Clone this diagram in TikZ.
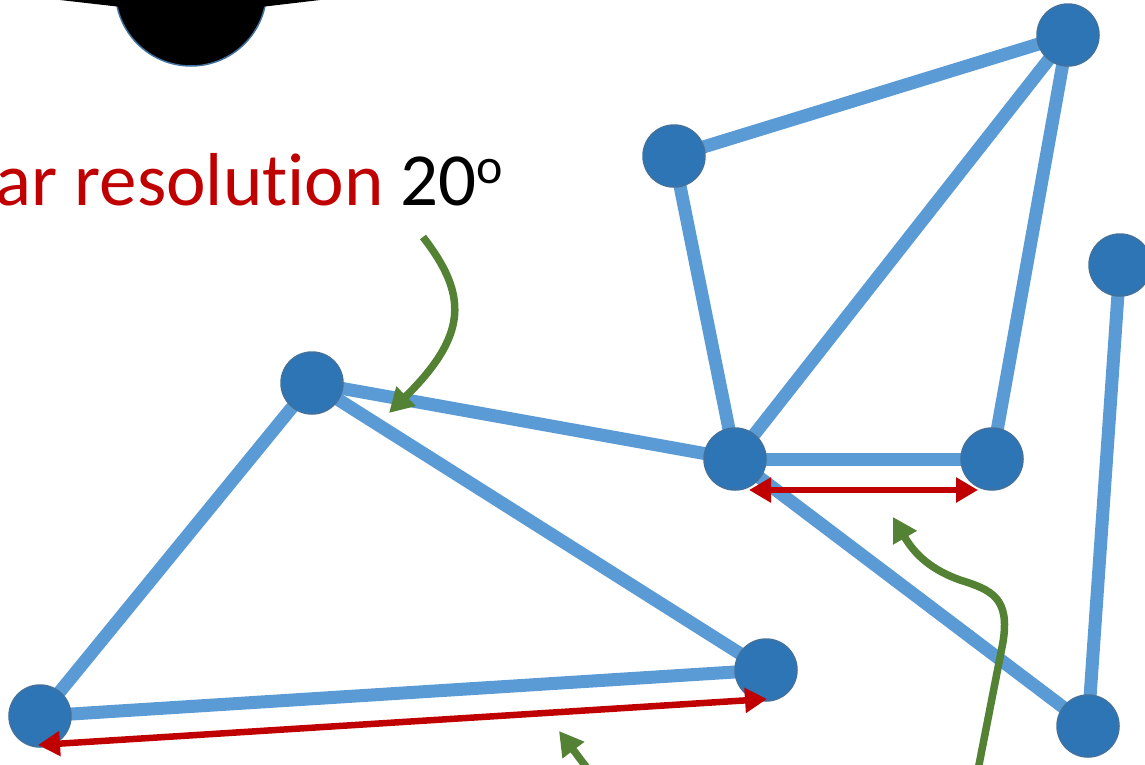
\documentclass[tikz,border=0pt]{standalone}
\usepackage{fontspec}
\setmainfont{Carlito}[Ligatures={NoCommon}]
\usetikzlibrary{arrows.meta}
\definecolor{edgeblue}{HTML}{5B9BD5}
\definecolor{nodeblue}{HTML}{2E75B6}
\definecolor{nodeline}{HTML}{41719C}
\definecolor{arrred}{HTML}{C00000}
\definecolor{arrgreen}{HTML}{548235}
\begin{document}
\begin{tikzpicture}[x=1pt,y=-1pt,
  vertex/.style={circle,fill=nodeblue,draw=nodeline,line width=1.5pt,minimum size=62pt,inner sep=0pt},
  edge/.style={draw=edgeblue,line width=13pt},
  measure/.style={draw=arrred,line width=6.5pt,{Triangle[length=22pt,width=24pt]}-{Triangle[length=22pt,width=24pt]}},
  pointer/.style={draw=arrgreen,line width=7.5pt,-{Triangle[length=24pt,width=26pt]}},
  label/.style={inner sep=0pt,font=\fontsize{75}{90}\selectfont}]
\useasboundingbox (0,0) rectangle (1145,764);
\clip (0,0) rectangle (1145,764);
% black shape at top
\fill[black,draw=nodeline,line width=1.5pt] (191,-9.6) circle (75.6);
\fill[black] (60,-30) -- (60,0) -- (117,6.5) -- (265,6.5) -- (320,0) -- (320,-30) -- cycle;
% text
\node[label,anchor=base east,text=arrred] (lbl) at (384,205) {Angular resolution};
\node[label,anchor=base west] (deg) at (400,205) {20\raisebox{22pt}{\fontsize{50}{60}\selectfont o}};
% coordinates of vertices
\coordinate (a) at (1068,35);
\coordinate (b) at (674,156);
\coordinate (c) at (1120,265);
\coordinate (d) at (312,383);
\coordinate (e) at (735,459);
\coordinate (f) at (992,459);
\coordinate (g) at (766,670);
\coordinate (h) at (40,716);
\coordinate (i) at (1088,726);
% edges
\draw[edge] (b) -- (a);
\draw[edge] (b) -- (e);
\draw[edge] (a) -- (e);
\draw[edge] (a) -- (f);
\draw[edge] (e) -- (f);
\draw[edge] (d) -- (e);
\draw[edge] (d) -- (h);
\draw[edge] (d) -- (g);
\draw[edge] (h) -- (g);
\draw[edge] (e) -- (i);
\draw[edge] (c) -- (i);
% vertices
\foreach \n in {a,b,c,d,e,f,g,h,i}
  \node[vertex] (v\n) at (\n) {};
% red measurement arrows
\coordinate (r1) at (749,490);
\coordinate (r2) at (978,490);
\draw[measure] (r1) -- (r2);
\coordinate (r3) at (38,745);
\coordinate (r4) at (767,699);
\draw[measure] (r3) -- (r4);
% green pointers
\coordinate (p1) at (423,237);
\coordinate (p2) at (389,413);
\draw[pointer] (p1) .. controls (468,295) and (468,335) .. (p2);
\coordinate (q1) at (977,775);
\coordinate (q2) at (893,517);
\draw[pointer] (q1) -- (1003,642) .. controls (1010,598) and (992,590) .. (960,580) .. controls (932,570) and (915,555) .. (q2);
\coordinate (s1) at (590,772);
\coordinate (s2) at (559,731);
\draw[pointer] (s1) -- (s2);
\end{tikzpicture}
\end{document}
